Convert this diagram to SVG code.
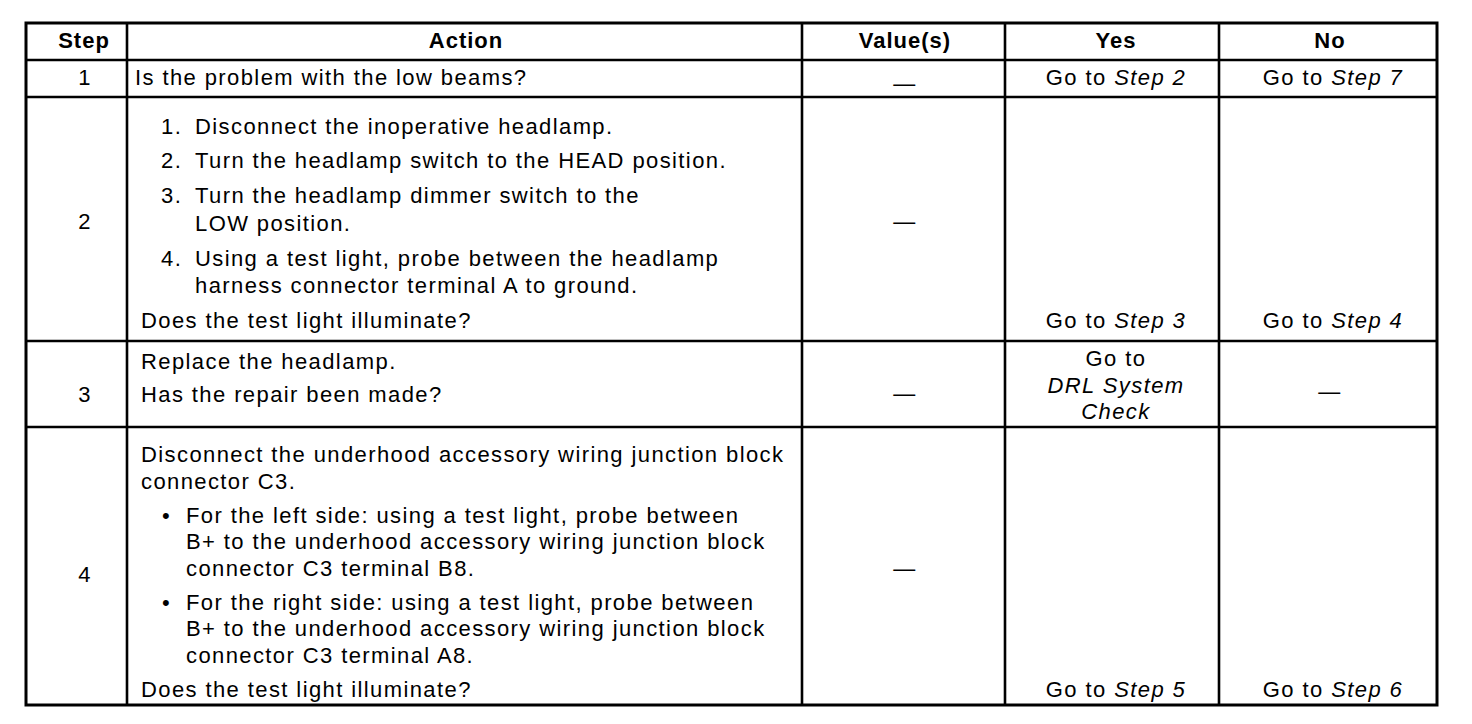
<svg xmlns="http://www.w3.org/2000/svg" width="1472" height="724" viewBox="0 0 1472 724">
<style>
  .grid line { stroke: #000; stroke-width: 2.6; }
  .outer { fill: none; stroke: #000; stroke-width: 3; }
  text { font-family: "Liberation Sans", Arial, Helvetica, sans-serif; font-size: 22px; fill: #000; letter-spacing: 1.4px; }
  .h { font-weight: bold; text-anchor: middle; letter-spacing: 1px; }
  .c { text-anchor: middle; }
  .i { font-style: italic; }
</style>
<rect width="1472" height="724" fill="#fff"/>
<g id="grid" class="grid">
  <rect class="outer" x="26" y="23" width="1411" height="682"/>
  <line x1="127" y1="23" x2="127" y2="705"/>
  <line x1="802" y1="23" x2="802" y2="705"/>
  <line x1="1005" y1="23" x2="1005" y2="705"/>
  <line x1="1219" y1="23" x2="1219" y2="705"/>
  <line x1="26" y1="60" x2="1437" y2="60"/>
  <line x1="26" y1="97" x2="1437" y2="97"/>
  <line x1="26" y1="341" x2="1437" y2="341"/>
  <line x1="26" y1="427" x2="1437" y2="427"/>
</g>
<g id="header">
  <text class="h" x="84" y="48">Step</text>
  <text class="h" x="466" y="48">Action</text>
  <text class="h" x="905" y="48">Value(s)</text>
  <text class="h" x="1116" y="48">Yes</text>
  <text class="h" x="1330" y="48">No</text>
</g>
<g id="row1">
  <text class="c" x="85" y="85">1</text>
  <text x="135" y="85">Is the problem with the low beams?</text>
  <text class="c" x="905" y="91">—</text>
  <text class="c" x="1116" y="85">Go to <tspan class="i">Step 2</tspan></text>
  <text class="c" x="1333" y="85">Go to <tspan class="i">Step 7</tspan></text>
</g>
<g id="row2">
  <text class="c" x="85" y="229">2</text>
  <text x="161" y="134">1.</text>
  <text x="195" y="134">Disconnect the inoperative headlamp.</text>
  <text x="161" y="168">2.</text>
  <text x="195" y="168">Turn the headlamp switch to the HEAD position.</text>
  <text x="161" y="203">3.</text>
  <text x="195" y="203">Turn the headlamp dimmer switch to the</text>
  <text x="195" y="231">LOW position.</text>
  <text x="161" y="266">4.</text>
  <text x="195" y="266">Using a test light, probe between the headlamp</text>
  <text x="195" y="293">harness connector terminal A to ground.</text>
  <text x="141" y="328">Does the test light illuminate?</text>
  <text class="c" x="905" y="229">—</text>
  <text class="c" x="1116" y="328">Go to <tspan class="i">Step 3</tspan></text>
  <text class="c" x="1333" y="328">Go to <tspan class="i">Step 4</tspan></text>
</g>
<g id="row3">
  <text class="c" x="85" y="402">3</text>
  <text x="141" y="369">Replace the headlamp.</text>
  <text x="141" y="402">Has the repair been made?</text>
  <text class="c" x="905" y="401">—</text>
  <text class="c" x="1116" y="366">Go to</text>
  <text class="c i" x="1116" y="393">DRL System</text>
  <text class="c i" x="1116" y="419">Check</text>
  <text class="c" x="1330" y="399">—</text>
</g>
<g id="row4">
  <text class="c" x="85" y="582">4</text>
  <text x="141" y="462">Disconnect the underhood accessory wiring junction block</text>
  <text x="141" y="489">connector C3.</text>
  <text x="162" y="523">•</text>
  <text x="186" y="523">For the left side: using a test light, probe between</text>
  <text x="186" y="549">B+ to the underhood accessory wiring junction block</text>
  <text x="186" y="576">connector C3 terminal B8.</text>
  <text x="162" y="610">•</text>
  <text x="186" y="610">For the right side: using a test light, probe between</text>
  <text x="186" y="636">B+ to the underhood accessory wiring junction block</text>
  <text x="186" y="663">connector C3 terminal A8.</text>
  <text x="141" y="697">Does the test light illuminate?</text>
  <text class="c" x="905" y="576">—</text>
  <text class="c" x="1116" y="697">Go to <tspan class="i">Step 5</tspan></text>
  <text class="c" x="1333" y="697">Go to <tspan class="i">Step 6</tspan></text>
</g>
</svg>
